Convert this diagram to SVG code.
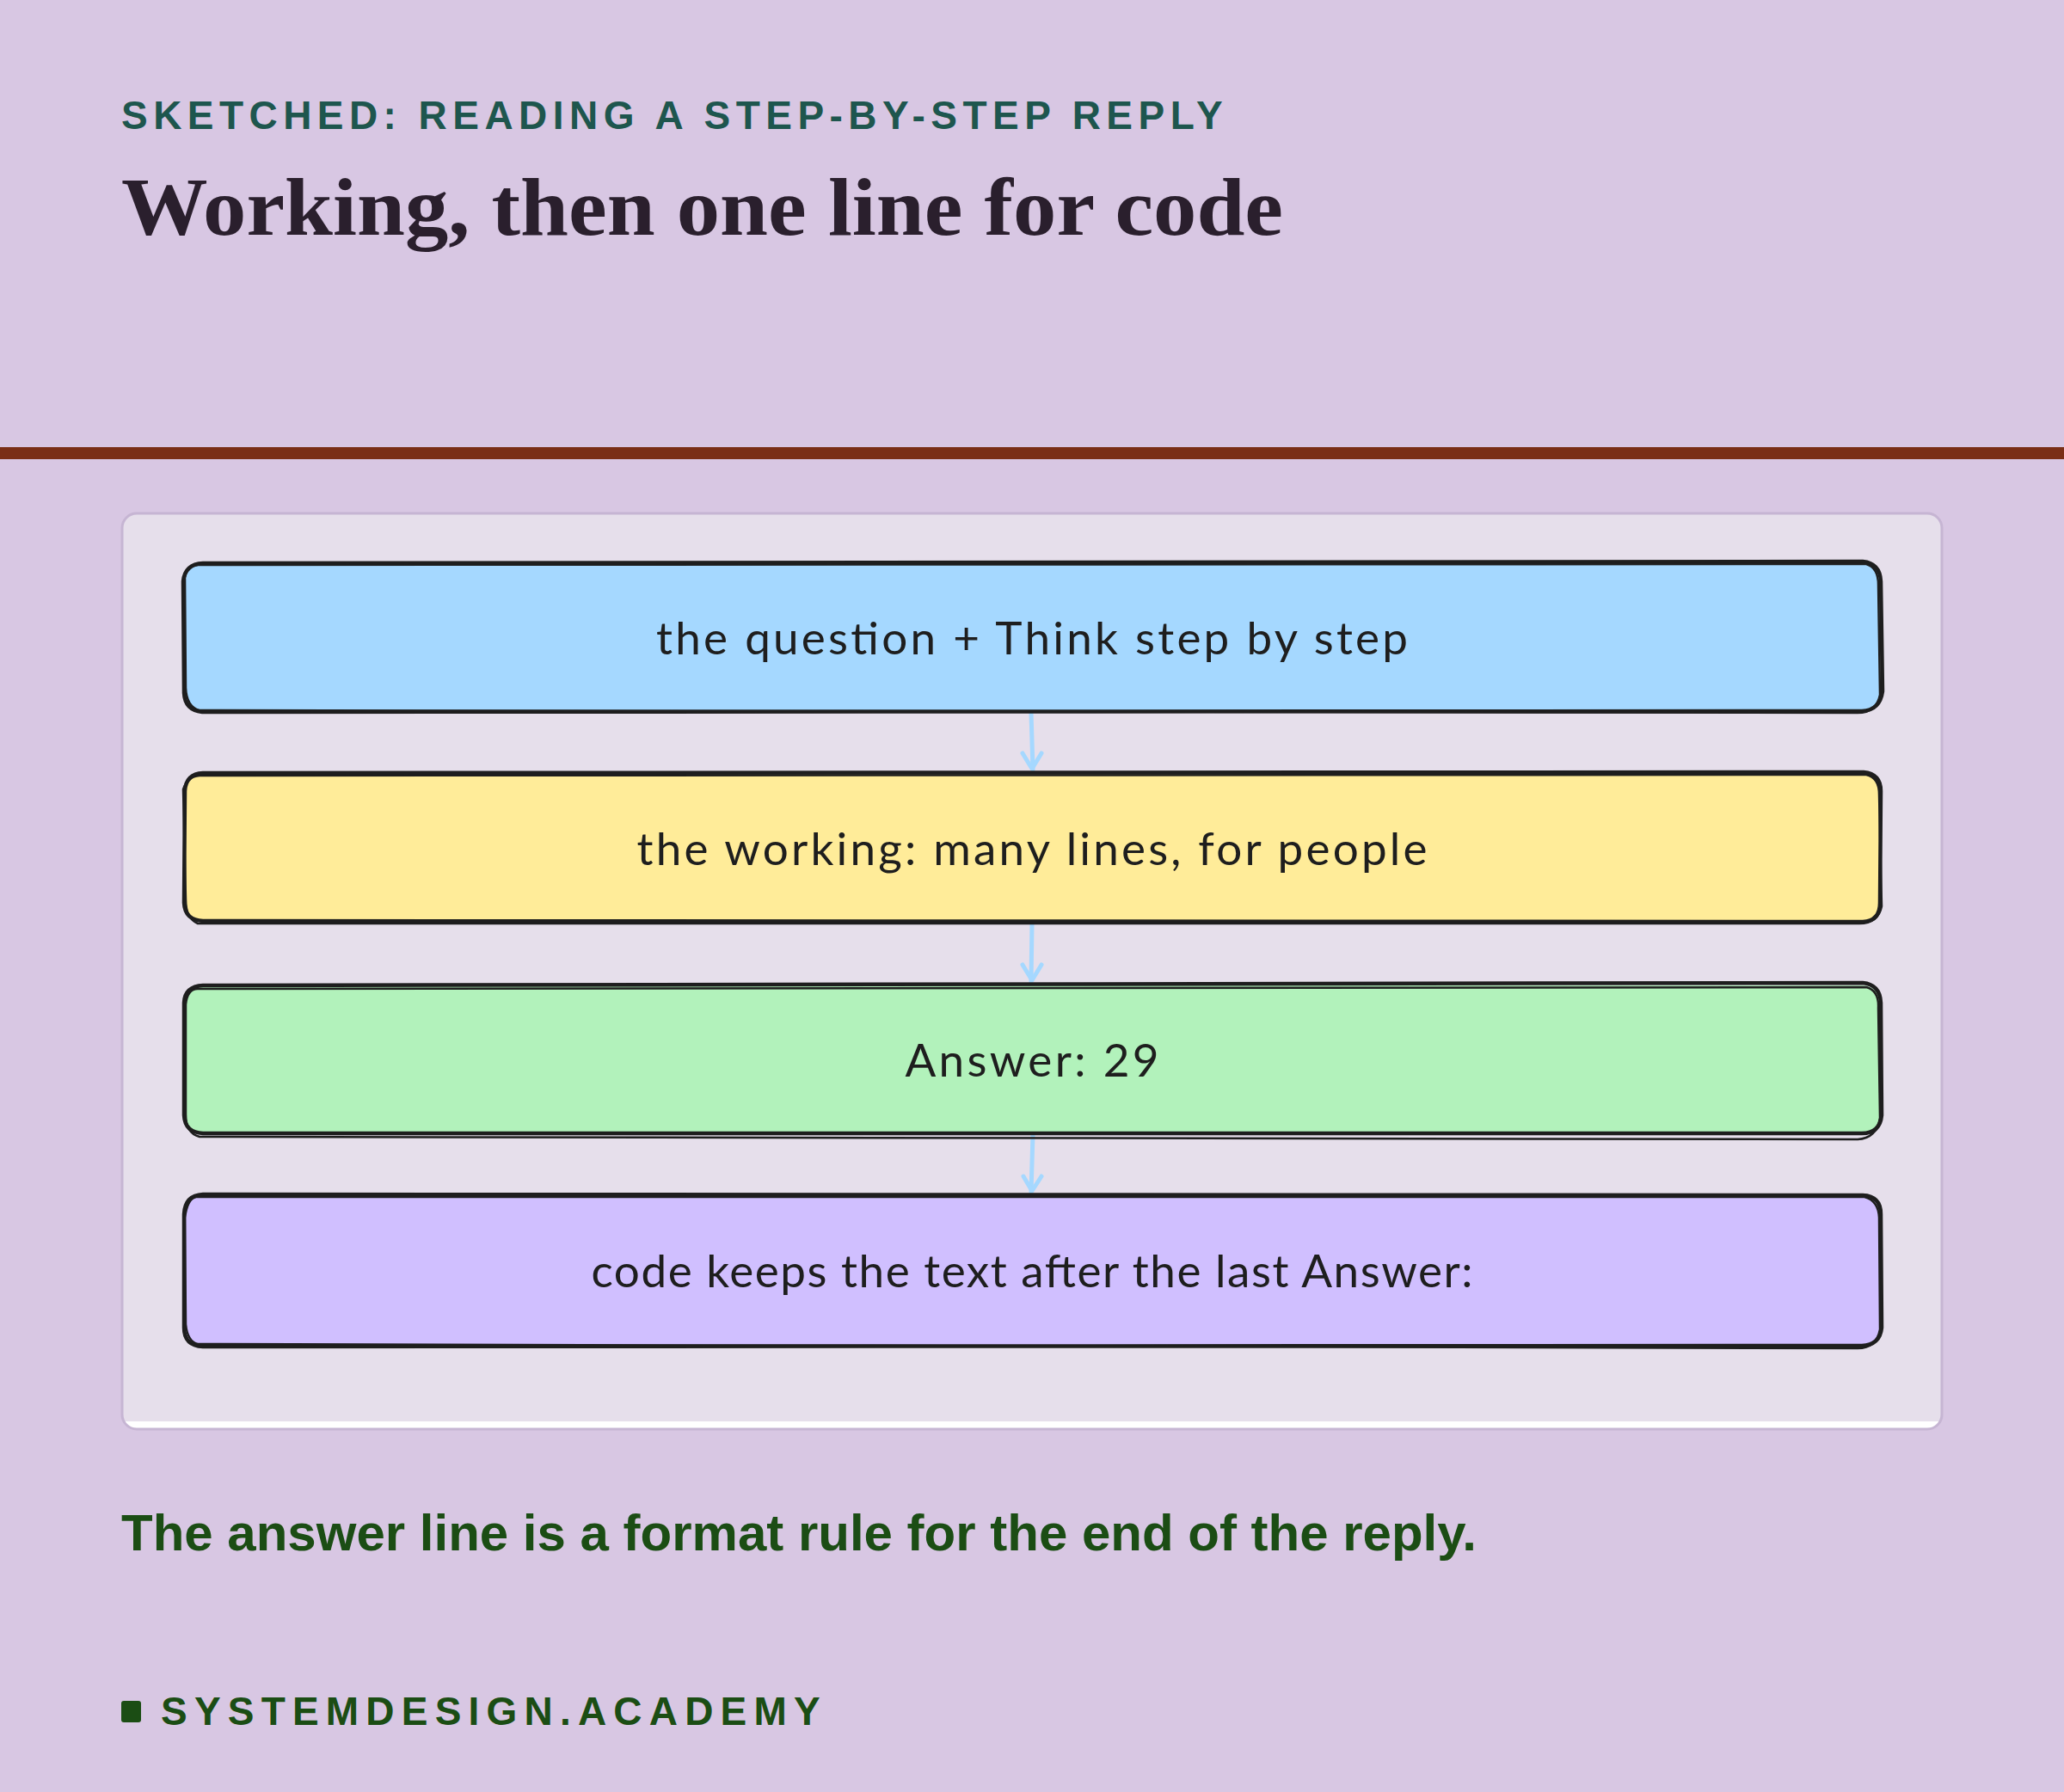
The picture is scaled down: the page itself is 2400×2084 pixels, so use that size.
<svg xmlns="http://www.w3.org/2000/svg" width="2400" height="2084" viewBox="0 0 2400 2084">
<defs>
<style>
.kicker{font-family:"Liberation Sans",Arial,sans-serif;font-weight:700;font-size:46px;letter-spacing:6.45px;fill:#1E564E}
.title{font-family:"Liberation Serif","Times New Roman",serif;font-weight:700;font-size:96px;fill:#2A1F2D}
.caption{font-family:"Liberation Sans",Arial,sans-serif;font-weight:700;font-size:60px;fill:#1B4D14}
.brand{font-family:"Liberation Sans",Arial,sans-serif;font-weight:700;font-size:46px;letter-spacing:8.2px;fill:#1B4D14}
.label{font-family:"Lato","Noto Sans",sans-serif;font-size:53px;fill:#1E1E1E;text-anchor:middle}
.edge{fill:none;stroke:#1E1E1E;stroke-width:4.5;stroke-linecap:round;stroke-linejoin:round}
.edge2{fill:none;stroke:#1E1E1E;stroke-width:2.5;stroke-linecap:round;stroke-linejoin:round}
.conn{fill:none;stroke:#A5D8FF;stroke-width:5;stroke-linecap:round;stroke-linejoin:round}
</style>
<clipPath id="panelClip"><rect x="142" y="597" width="2116" height="1065" rx="17"/></clipPath>
</defs>
<rect width="2400" height="2084" fill="#D8C7E3"/>
<text class="kicker" x="141" y="150">SKETCHED: READING A STEP-BY-STEP REPLY</text>
<text class="title" x="141" y="273" textLength="1351" lengthAdjust="spacingAndGlyphs">Working, then one line for code</text>
<rect x="0" y="520" width="2400" height="14" fill="#7A2E16"/>

<g id="panel">
<rect x="142" y="597" width="2116" height="1065" rx="17" fill="#FFFFFF"/>
<rect x="142" y="597" width="2116" height="1056" fill="#E6DFEB" clip-path="url(#panelClip)"/>
<rect x="142" y="597" width="2116" height="1065" rx="17" fill="none" stroke="#C6B5D3" stroke-width="3"/>
</g>

<g id="connectors">
<path class="conn" d="M1199,829 L1201,895"/>
<path class="conn" d="M1189,876 L1200,894 L1211,876"/>
<path class="conn" d="M1200,1074 L1199,1141"/>
<path class="conn" d="M1189,1122 L1200,1140 L1211,1122"/>
<path class="conn" d="M1201,1319 L1199,1386"/>
<path class="conn" d="M1190,1368 L1200,1385 L1211,1368"/>
</g>

<g id="node-question">
<rect x="216" y="655" width="1970" height="172" rx="20" fill="#A5D8FF"/>
<path class="edge" d="M236,655 L2166,653 Q2186,655 2187,676 L2189,804 Q2186,826 2165,827 L235,828 Q215,826 214,806 L213,676 Q215,656 236,655 Z"/>
<path class="edge2" d="M230,657 L2170,656 Q2184,660 2184,680 L2186,808 Q2182,829 2160,829 L232,826 Q217,822 216,800 L215,672 Q217,658 230,657"/>
<text class="label" x="1200" y="761" textLength="874" lengthAdjust="spacing">the question + Think step by step</text>
</g>

<g id="node-working">
<rect x="216" y="900" width="1970" height="172" rx="20" fill="#FFEC99"/>
<path class="edge" d="M236,899 L2167,898 Q2187,900 2187,920 L2186,1050 Q2186,1071 2166,1072 L236,1071 Q215,1070 214,1050 L215,920 Q216,900 236,899 Z"/>
<path class="edge2" d="M232,902 L2170,901 Q2185,904 2185,924 L2188,1054 Q2184,1074 2162,1074 L230,1074 Q216,1068 216,1046 L213,918 Q218,903 232,902"/>
<text class="label" x="1200" y="1006" textLength="919" lengthAdjust="spacing">the working: many lines, for people</text>
</g>

<g id="node-answer">
<rect x="216" y="1146" width="1970" height="172" rx="20" fill="#B2F2BB"/>
<path class="edge" d="M236,1146 L2166,1143 Q2186,1145 2187,1166 L2188,1297 Q2186,1318 2165,1318 L236,1318 Q215,1317 214,1297 L214,1166 Q215,1147 236,1146 Z"/>
<path class="edge2" d="M230,1150 L2170,1148 Q2185,1152 2184,1172 L2186,1300 Q2182,1324 2160,1325 L232,1322 Q216,1318 216,1296 L216,1168 Q218,1150 230,1150"/>
<text class="label" x="1200" y="1252" textLength="295" lengthAdjust="spacing">Answer: 29</text>
</g>

<g id="node-code">
<rect x="216" y="1390" width="1970" height="174" rx="20" fill="#D0BFFF"/>
<path class="edge" d="M236,1389 L2166,1390 Q2187,1391 2187,1412 L2188,1544 Q2186,1564 2165,1565 L236,1566 Q214,1565 214,1544 L214,1412 Q215,1390 236,1389 Z"/>
<path class="edge2" d="M228,1392 L2168,1392 Q2184,1396 2185,1416 L2186,1546 Q2182,1568 2160,1568 L230,1563 Q218,1560 216,1540 L215,1416 Q218,1394 228,1392"/>
<text class="label" x="1200" y="1497" textLength="1025" lengthAdjust="spacing">code keeps the text after the last Answer:</text>
</g>

<text class="caption" x="141" y="1803">The answer line is a format rule for the end of the reply.</text>

<g id="brand">
<rect x="141" y="1978" width="23" height="25" rx="3" fill="#1B4D14"/>
<text class="brand" x="187" y="2006">SYSTEMDESIGN.ACADEMY</text>
</g>
</svg>
